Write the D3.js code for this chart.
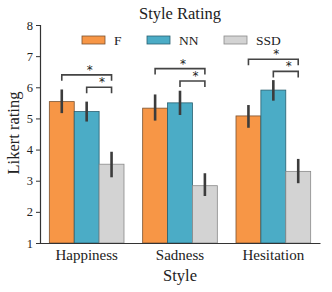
<!DOCTYPE html>
<html>
<head>
<meta charset="utf-8">
<script src="https://cdn.jsdelivr.net/npm/d3@7"></script>
<style>
  body { margin: 0; background: #fff; }
  text { font-family: "Liberation Serif", "DejaVu Serif", serif; fill: #222; }
  text.star { font-family: "DejaVu Sans", sans-serif; font-variant-emoji: text; }
</style>
</head>
<body>
<svg id="chart" width="332" height="292"></svg>
<script>
const styles = ['Happiness', 'Sadness', 'Hesitation'];
const methods = ['F', 'NN', 'SSD'];
const colors = ['#f79646', '#4bacc6', '#d3d3d3'];
const edges = ['#7a5230', '#2a6070', '#8a8a8a'];
// mean rating per style, one array per method
const fMean = [5.54, 5.33, 5.08];
const nnMean = [5.22, 5.50, 5.91];
const ssdMean = [3.53, 2.84, 3.30];
// confidence interval low / high
const fLow = [5.17, 4.93, 4.70];
const fHigh = [5.93, 5.77, 5.43];
const nnLow = [4.90, 5.11, 5.57];
const nnHigh = [5.54, 5.89, 6.23];
const ssdLow = [3.11, 2.51, 2.92];
const ssdHigh = [3.93, 3.24, 3.70];
const yTicks = [1, 2, 3, 4, 5, 6, 7, 8];
// significance brackets: [style index, from method, to method, bracket level]
const sigs = [
  [0, 0, 2, 6.40], [0, 1, 2, 6.00],
  [1, 0, 2, 6.60], [1, 1, 2, 6.20],
  [2, 0, 2, 6.90], [2, 1, 2, 6.51]
];

const means = [fMean, nnMean, ssdMean];
const lows = [fLow, nnLow, ssdLow];
const highs = [fHigh, nnHigh, ssdHigh];

const svg = d3.select('#chart');
const margin = {top: 25, left: 40, right: 12, bottom: 49};
const width = 332 - margin.left - margin.right;
const height = 292 - margin.top - margin.bottom;
const g = svg.append('g').attr('transform', `translate(${margin.left}, ${margin.top})`);

const x = d3.scaleBand().domain(styles).range([0, width]).paddingInner(0.2).paddingOuter(0.1);
const xm = d3.scaleBand().domain(methods).range([0, x.bandwidth()]);
const y = d3.scaleLinear().domain([1, 8]).range([height, 0]);

// bars
methods.forEach((m, mi) => {
  g.selectAll('.bar' + mi)
    .data(styles)
    .enter().append('rect')
    .attr('x', d => x(d) + xm(m))
    .attr('y', (d, i) => y(means[mi][i]))
    .attr('width', xm.bandwidth())
    .attr('height', (d, i) => y(1) - y(means[mi][i]))
    .attr('fill', colors[mi])
    .attr('stroke', edges[mi])
    .attr('stroke-width', 0.8);

  g.selectAll('.err' + mi)
    .data(styles)
    .enter().append('line')
    .attr('x1', d => x(d) + xm(m) + xm.bandwidth() / 2)
    .attr('x2', d => x(d) + xm(m) + xm.bandwidth() / 2)
    .attr('y1', (d, i) => y(lows[mi][i]))
    .attr('y2', (d, i) => y(highs[mi][i]))
    .attr('stroke', '#3c3c3c')
    .attr('stroke-width', 2.6);
});

// significance brackets
sigs.forEach(s => {
  const st = styles[s[0]];
  const x1 = x(st) + xm(methods[s[1]]) + xm.bandwidth() / 2;
  const x2 = x(st) + xm(methods[s[2]]) + xm.bandwidth() / 2;
  const yb = y(s[3]);
  g.append('path')
    .attr('d', `M${x1},${yb + 6}V${yb}H${x2}V${yb + 6}`)
    .attr('fill', 'none')
    .attr('stroke', '#444')
    .attr('stroke-width', 1.6);
  g.append('text')
    .attr('class', 'star')
    .attr('x', (x1 + x2) / 2 + 3)
    .attr('y', yb - 1)
    .attr('text-anchor', 'middle')
    .attr('fill', '#222')
    .style('font-size', '12px')
    .text('*');
});

// axes
const yAxis = g.append('g')
  .call(d3.axisLeft(y).tickValues(yTicks).tickSize(4).tickFormat(d3.format('d')));
yAxis.selectAll('text').style('font-size', '12.5px').attr('x', -7);
yAxis.selectAll('line').attr('stroke', '#333');
yAxis.select('.domain').attr('stroke', '#333').attr('stroke-width', 1.2);

const xAxis = g.append('g').attr('transform', `translate(0, ${height})`)
  .call(d3.axisBottom(x).tickSize(0));
xAxis.selectAll('text').style('font-size', '15px').attr('dy', '0.95em');
xAxis.select('.domain').attr('stroke', '#333').attr('stroke-width', 1.2);

// labels
svg.append('text')
  .attr('x', 180).attr('y', 19)
  .attr('text-anchor', 'middle')
  .style('font-size', '16.5px')
  .text('Style Rating');

svg.append('text')
  .attr('x', 180).attr('y', 281)
  .attr('text-anchor', 'middle')
  .style('font-size', '16.5px')
  .text('Style');

svg.append('text')
  .attr('transform', 'translate(19, 133) rotate(-90)')
  .attr('text-anchor', 'middle')
  .style('font-size', '16.5px')
  .text('Likert rating');

// legend
const legend = svg.append('g');
const legX = [82, 147, 224];
methods.forEach((m, i) => {
  legend.append('rect')
    .attr('x', legX[i]).attr('y', 36)
    .attr('width', 23).attr('height', 8)
    .attr('fill', colors[i])
    .attr('stroke', edges[i])
    .attr('stroke-width', 0.8);
  legend.append('text')
    .attr('x', legX[i] + 32).attr('y', 45)
    .style('font-size', '13.5px')
    .text(m);
});
</script>
</body>
</html>
